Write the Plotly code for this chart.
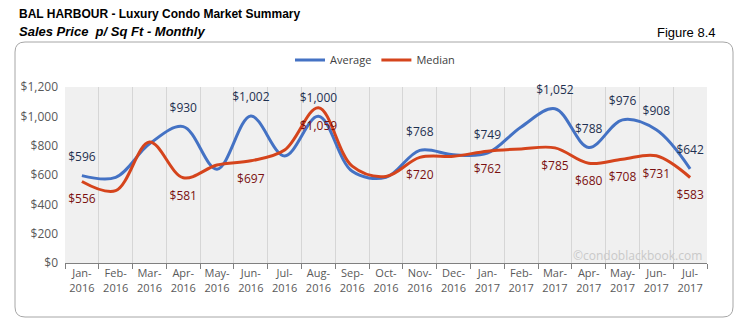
import plotly.graph_objects as go

months = ["Jan-<br>2016", "Feb-<br>2016", "Mar-<br>2016", "Apr-<br>2016", "May-<br>2016", "Jun-<br>2016",
          "Jul-<br>2016", "Aug-<br>2016", "Sep-<br>2016", "Oct-<br>2016", "Nov-<br>2016", "Dec-<br>2016",
          "Jan-<br>2017", "Feb-<br>2017", "Mar-<br>2017", "Apr-<br>2017", "May-<br>2017", "Jun-<br>2017",
          "Jul-<br>2017"]
average = [596, 584, 812, 930, 640, 1002, 730, 1000, 625, 584, 768, 738, 749, 928, 1052, 788, 976, 908, 642]
median = [556, 493, 825, 581, 668, 697, 770, 1059, 660, 590, 720, 728, 762, 778, 785, 680, 708, 731, 583]
avg_labeled = [True, False, False, True, False, True, False, True, False, False, True, False, True, False,
               True, True, True, True, True]
med_labeled = [True, False, False, True, False, True, False, True, False, False, True, False, True, False,
               True, True, True, True, True]

def fmt(v):
    return "${:,}".format(v)

avg_text = [fmt(v) if s else "" for v, s in zip(average, avg_labeled)]
med_text = [fmt(v) if s else "" for v, s in zip(median, med_labeled)]

BLUE = "#4472c4"
RED = "#d5441c"
W, H = 749, 327
L, R, T, B = 65, 42, 87, 64
pw, ph = W - L - R, H - T - B

def px(x):
    return (x - L) / pw

def py(y):
    return (H - B - y) / ph

fig = go.Figure()
fig.add_trace(go.Scatter(x=months, y=average, mode="lines", name="Average",
                         line=dict(color=BLUE, width=3, shape="spline", smoothing=1.0)))
fig.add_trace(go.Scatter(x=months, y=median, mode="lines", name="Median",
                         line=dict(color=RED, width=3, shape="spline", smoothing=1.0)))
fig.add_trace(go.Scatter(x=months, y=average, mode="markers+text", text=avg_text, textposition="top center",
                         marker=dict(size=17, color="rgba(0,0,0,0)"), cliponaxis=False,
                         textfont=dict(family="Open Sans", size=12, color="#1f3050"),
                         showlegend=False, hoverinfo="skip"))
fig.add_trace(go.Scatter(x=months, y=median, mode="markers+text", text=med_text, textposition="bottom center",
                         marker=dict(size=19, color="rgba(0,0,0,0)"), cliponaxis=False,
                         textfont=dict(family="Open Sans", size=12, color="#7a1010"),
                         showlegend=False, hoverinfo="skip"))

# rounded outer frame
x0, x1, y0, y1 = px(15), px(733), py(42), py(317)
rx, ry = 10 / pw, 10 / ph
path = (f"M {x0+rx},{y0} L {x1-rx},{y0} Q {x1},{y0} {x1},{y0-ry} L {x1},{y1+ry} "
        f"Q {x1},{y1} {x1-rx},{y1} L {x0+rx},{y1} Q {x0},{y1} {x0},{y1+ry} "
        f"L {x0},{y0-ry} Q {x0},{y0} {x0+rx},{y0} Z")
fig.add_shape(type="path", path=path, xref="paper", yref="paper",
              line=dict(color="#a6a6a6", width=1), layer="below")

fig.add_annotation(text="<b>BAL HARBOUR - Luxury Condo Market Summary</b>", x=px(17), y=py(14),
                   xref="paper", yref="paper", xanchor="left", yanchor="middle", showarrow=False,
                   font=dict(family="Liberation Sans", size=12, color="#000000"))
fig.add_annotation(text="<b><i>Sales Price  p/ Sq Ft - Monthly</i></b>", x=px(17), y=py(31),
                   xref="paper", yref="paper", xanchor="left", yanchor="middle", showarrow=False,
                   font=dict(family="Liberation Sans", size=13, color="#000000"))
fig.add_annotation(text="Figure 8.4", x=px(718), y=py(33), xref="paper", yref="paper",
                   xanchor="right", yanchor="middle", showarrow=False,
                   font=dict(family="Liberation Sans", size=13, color="#000000"))
fig.add_annotation(text="©condoblackbook.com", x=px(704), y=py(255), xref="paper", yref="paper",
                   xanchor="right", yanchor="middle", showarrow=False,
                   font=dict(family="Open Sans", size=12, color="#c9c9c9"))

fig.update_layout(
    width=W, height=H,
    margin=dict(l=L, r=R, t=T, b=B),
    paper_bgcolor="white",
    plot_bgcolor="#f0f0f0",
    font=dict(family="Open Sans", color="#595959"),
    showlegend=True,
    legend=dict(orientation="h", x=px(375), y=py(60), xanchor="center", yanchor="middle",
                font=dict(family="Open Sans", size=11, color="#404040"), bgcolor="rgba(0,0,0,0)",
                itemwidth=30),
    xaxis=dict(type="category", range=[-0.5, 18.5], tickson="boundaries", showgrid=True,
               gridcolor="#d6d6d6", gridwidth=1, ticks="outside", ticklen=5, tickcolor="#808080",
               showline=True, linecolor="#808080", linewidth=1, tickangle=0,
               tickfont=dict(family="Open Sans", size=11, color="#595959")),
    yaxis=dict(range=[0, 1200], dtick=200, tickprefix="$", tickformat=",", showgrid=False,
               zeroline=False, showline=False, ticks="", ticklabelstandoff=6,
               tickfont=dict(family="Open Sans", size=12, color="#595959")),
)

fig.write_html("out.html")
